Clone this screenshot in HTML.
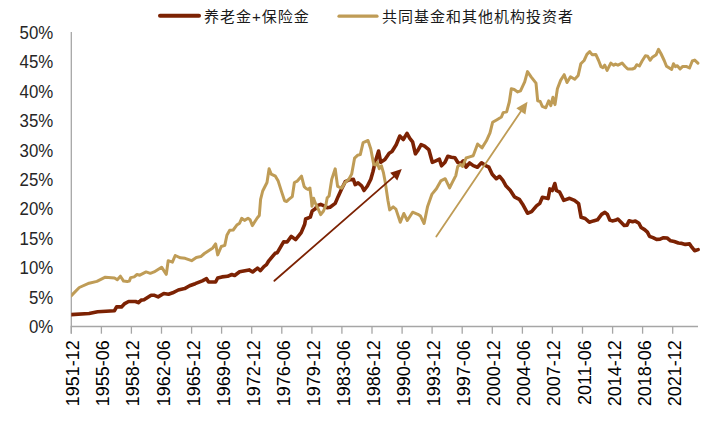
<!DOCTYPE html><html><head><meta charset="utf-8"><style>html,body{margin:0;padding:0;background:#fff;width:722px;height:426px;overflow:hidden}svg{display:block}</style></head><body>
<svg width="722" height="426" viewBox="0 0 722 426">
<rect width="722" height="426" fill="#fff"/>
<line x1="160" y1="15.8" x2="199" y2="15.8" stroke="#7C2203" stroke-width="4" stroke-linecap="round"/>
<text x="204" y="22" font-family="'Liberation Sans','Noto Sans CJK SC',sans-serif" font-size="15" letter-spacing="1" fill="#1a1a1a">养老金+保险金</text>
<line x1="339" y1="16.2" x2="377" y2="16.2" stroke="#BF9C56" stroke-width="3.2" stroke-linecap="round"/>
<text x="382" y="22" font-family="'Liberation Sans','Noto Sans CJK SC',sans-serif" font-size="15" letter-spacing="1" fill="#1a1a1a">共同基金和其他机构投资者</text>
<text transform="translate(53.2,333.2) scale(0.962,1)" text-anchor="end" font-family="'Liberation Sans',sans-serif" font-size="17.5" fill="#262626">0%</text>
<text transform="translate(53.2,303.8) scale(0.962,1)" text-anchor="end" font-family="'Liberation Sans',sans-serif" font-size="17.5" fill="#262626">5%</text>
<text transform="translate(53.2,274.3) scale(0.962,1)" text-anchor="end" font-family="'Liberation Sans',sans-serif" font-size="17.5" fill="#262626">10%</text>
<text transform="translate(53.2,244.9) scale(0.962,1)" text-anchor="end" font-family="'Liberation Sans',sans-serif" font-size="17.5" fill="#262626">15%</text>
<text transform="translate(53.2,215.4) scale(0.962,1)" text-anchor="end" font-family="'Liberation Sans',sans-serif" font-size="17.5" fill="#262626">20%</text>
<text transform="translate(53.2,186.0) scale(0.962,1)" text-anchor="end" font-family="'Liberation Sans',sans-serif" font-size="17.5" fill="#262626">25%</text>
<text transform="translate(53.2,156.6) scale(0.962,1)" text-anchor="end" font-family="'Liberation Sans',sans-serif" font-size="17.5" fill="#262626">30%</text>
<text transform="translate(53.2,127.1) scale(0.962,1)" text-anchor="end" font-family="'Liberation Sans',sans-serif" font-size="17.5" fill="#262626">35%</text>
<text transform="translate(53.2,97.7) scale(0.962,1)" text-anchor="end" font-family="'Liberation Sans',sans-serif" font-size="17.5" fill="#262626">40%</text>
<text transform="translate(53.2,68.2) scale(0.962,1)" text-anchor="end" font-family="'Liberation Sans',sans-serif" font-size="17.5" fill="#262626">45%</text>
<text transform="translate(53.2,38.8) scale(0.962,1)" text-anchor="end" font-family="'Liberation Sans',sans-serif" font-size="17.5" fill="#262626">50%</text>
<line x1="71.3" y1="32" x2="71.3" y2="333.5" stroke="#A6A6A6" stroke-width="1.3"/>
<line x1="70.7" y1="326.5" x2="698" y2="326.5" stroke="#A6A6A6" stroke-width="1.3"/>
<line x1="71.3" y1="326.5" x2="71.3" y2="333.7" stroke="#A6A6A6" stroke-width="1.3"/>
<text transform="translate(79.3,340.3) rotate(-90)" text-anchor="end" font-family="'Liberation Sans',sans-serif" font-size="18" fill="#000">1951-12</text>
<line x1="101.4" y1="326.5" x2="101.4" y2="333.7" stroke="#A6A6A6" stroke-width="1.3"/>
<text transform="translate(109.4,340.3) rotate(-90)" text-anchor="end" font-family="'Liberation Sans',sans-serif" font-size="18" fill="#000">1955-06</text>
<line x1="131.4" y1="326.5" x2="131.4" y2="333.7" stroke="#A6A6A6" stroke-width="1.3"/>
<text transform="translate(139.4,340.3) rotate(-90)" text-anchor="end" font-family="'Liberation Sans',sans-serif" font-size="18" fill="#000">1958-12</text>
<line x1="161.5" y1="326.5" x2="161.5" y2="333.7" stroke="#A6A6A6" stroke-width="1.3"/>
<text transform="translate(169.5,340.3) rotate(-90)" text-anchor="end" font-family="'Liberation Sans',sans-serif" font-size="18" fill="#000">1962-06</text>
<line x1="191.6" y1="326.5" x2="191.6" y2="333.7" stroke="#A6A6A6" stroke-width="1.3"/>
<text transform="translate(199.6,340.3) rotate(-90)" text-anchor="end" font-family="'Liberation Sans',sans-serif" font-size="18" fill="#000">1965-12</text>
<line x1="221.6" y1="326.5" x2="221.6" y2="333.7" stroke="#A6A6A6" stroke-width="1.3"/>
<text transform="translate(229.6,340.3) rotate(-90)" text-anchor="end" font-family="'Liberation Sans',sans-serif" font-size="18" fill="#000">1969-06</text>
<line x1="251.7" y1="326.5" x2="251.7" y2="333.7" stroke="#A6A6A6" stroke-width="1.3"/>
<text transform="translate(259.7,340.3) rotate(-90)" text-anchor="end" font-family="'Liberation Sans',sans-serif" font-size="18" fill="#000">1972-12</text>
<line x1="281.8" y1="326.5" x2="281.8" y2="333.7" stroke="#A6A6A6" stroke-width="1.3"/>
<text transform="translate(289.8,340.3) rotate(-90)" text-anchor="end" font-family="'Liberation Sans',sans-serif" font-size="18" fill="#000">1976-06</text>
<line x1="311.9" y1="326.5" x2="311.9" y2="333.7" stroke="#A6A6A6" stroke-width="1.3"/>
<text transform="translate(319.9,340.3) rotate(-90)" text-anchor="end" font-family="'Liberation Sans',sans-serif" font-size="18" fill="#000">1979-12</text>
<line x1="341.9" y1="326.5" x2="341.9" y2="333.7" stroke="#A6A6A6" stroke-width="1.3"/>
<text transform="translate(349.9,340.3) rotate(-90)" text-anchor="end" font-family="'Liberation Sans',sans-serif" font-size="18" fill="#000">1983-06</text>
<line x1="372.0" y1="326.5" x2="372.0" y2="333.7" stroke="#A6A6A6" stroke-width="1.3"/>
<text transform="translate(380.0,340.3) rotate(-90)" text-anchor="end" font-family="'Liberation Sans',sans-serif" font-size="18" fill="#000">1986-12</text>
<line x1="402.1" y1="326.5" x2="402.1" y2="333.7" stroke="#A6A6A6" stroke-width="1.3"/>
<text transform="translate(410.1,340.3) rotate(-90)" text-anchor="end" font-family="'Liberation Sans',sans-serif" font-size="18" fill="#000">1990-06</text>
<line x1="432.1" y1="326.5" x2="432.1" y2="333.7" stroke="#A6A6A6" stroke-width="1.3"/>
<text transform="translate(440.1,340.3) rotate(-90)" text-anchor="end" font-family="'Liberation Sans',sans-serif" font-size="18" fill="#000">1993-12</text>
<line x1="462.2" y1="326.5" x2="462.2" y2="333.7" stroke="#A6A6A6" stroke-width="1.3"/>
<text transform="translate(470.2,340.3) rotate(-90)" text-anchor="end" font-family="'Liberation Sans',sans-serif" font-size="18" fill="#000">1997-06</text>
<line x1="492.3" y1="326.5" x2="492.3" y2="333.7" stroke="#A6A6A6" stroke-width="1.3"/>
<text transform="translate(500.3,340.3) rotate(-90)" text-anchor="end" font-family="'Liberation Sans',sans-serif" font-size="18" fill="#000">2000-12</text>
<line x1="522.4" y1="326.5" x2="522.4" y2="333.7" stroke="#A6A6A6" stroke-width="1.3"/>
<text transform="translate(530.4,340.3) rotate(-90)" text-anchor="end" font-family="'Liberation Sans',sans-serif" font-size="18" fill="#000">2004-06</text>
<line x1="552.4" y1="326.5" x2="552.4" y2="333.7" stroke="#A6A6A6" stroke-width="1.3"/>
<text transform="translate(560.4,340.3) rotate(-90)" text-anchor="end" font-family="'Liberation Sans',sans-serif" font-size="18" fill="#000">2007-12</text>
<line x1="582.5" y1="326.5" x2="582.5" y2="333.7" stroke="#A6A6A6" stroke-width="1.3"/>
<text transform="translate(590.5,340.3) rotate(-90)" text-anchor="end" font-family="'Liberation Sans',sans-serif" font-size="18" fill="#000">2011-06</text>
<line x1="612.6" y1="326.5" x2="612.6" y2="333.7" stroke="#A6A6A6" stroke-width="1.3"/>
<text transform="translate(620.6,340.3) rotate(-90)" text-anchor="end" font-family="'Liberation Sans',sans-serif" font-size="18" fill="#000">2014-12</text>
<line x1="642.6" y1="326.5" x2="642.6" y2="333.7" stroke="#A6A6A6" stroke-width="1.3"/>
<text transform="translate(650.6,340.3) rotate(-90)" text-anchor="end" font-family="'Liberation Sans',sans-serif" font-size="18" fill="#000">2018-06</text>
<line x1="672.7" y1="326.5" x2="672.7" y2="333.7" stroke="#A6A6A6" stroke-width="1.3"/>
<text transform="translate(680.7,340.3) rotate(-90)" text-anchor="end" font-family="'Liberation Sans',sans-serif" font-size="18" fill="#000">2021-12</text>
<defs><clipPath id="pc"><rect x="71.3" y="0" width="650" height="340"/></clipPath></defs><g clip-path="url(#pc)">
<polyline points="71.1,314.6 89.1,313.5 97.6,311.8 114.5,310.7 116.6,306.9 121.5,306.9 124.3,303.9 128.6,301.5 135.6,301.5 138.4,302.7 141.2,300.1 144,299.7 151.1,295.2 153.9,295.2 158.1,296.9 163.8,293.5 168.5,294.2 172.7,292.8 178.3,290 184.6,288.6 189.6,285.8 195.2,283.7 202.3,280.8 206.5,278.7 208.6,282 215.6,282 217.7,278 222,276.9 227.6,276.3 231.8,274.5 234.6,275.5 239.6,271.7 249.1,269.9 252.6,272 257.5,268.2 260.4,270.6 263.9,266.6 266.5,264.6 268.8,260.8 275.1,253.3 277.3,252.7 280.8,246.7 283.6,241.8 287.1,242 291.3,236.4 295.6,239.6 301.2,232.6 304.7,224.2 305.6,219 310.3,217.1 312.2,211 315,209.1 317.8,205.4 320.7,204.4 324,205.8 327.2,207.7 330,207.2 335.2,203.4 338.2,196.4 341.7,188.8 345.2,181.7 349.9,179.7 353.4,179.4 355.2,184.6 358.1,182.9 361.6,185.8 364,190.5 367.4,186 370.8,179.2 373,171.5 375.1,162.3 378.6,151 380.7,162.3 384.9,159.5 389.2,153.2 392,151.5 396.2,144.7 399.8,136 403.3,139.5 407,133.4 409.8,138.3 412.6,141.8 415.4,153.8 417.5,151 421.1,144.6 424.6,146.1 428.8,149.6 432.3,162.3 435.8,160.8 439.4,159.2 441.5,165.8 445,162.3 447.8,156.3 451.3,157.3 454.9,157.7 457.7,162.3 460.5,163.7 463.3,160.8 466.1,167.2 469.6,163 473.3,165.6 477.4,167.2 481.5,162.8 485.6,165.6 488.9,167.2 492.2,174.3 496.3,178.7 499.6,176.3 502.9,180.4 506.1,186.1 510.2,190.2 514.4,196.8 519.3,199.3 522.6,204.2 527.5,213.2 531.6,211.6 536.5,205.9 539.8,203.4 542.4,197.3 548.1,198.6 549.9,188.9 552.3,190.5 554.8,183.5 556.4,190.5 559.7,192.2 563.8,200.4 569.6,198.3 574.5,200.4 578.6,203.7 581.1,217.3 585.2,218.5 589.3,222.2 593.4,220.9 597.5,219.8 601.6,214.4 604.9,212.4 607.4,214.4 609.8,220.1 612.3,220.9 615.3,220.3 617.8,219 621.3,222.5 624.2,225.4 627,225.1 629.1,220.8 632.6,221.8 635.4,221.1 638.9,223.2 641.1,227.5 644.6,229.6 647.4,232.1 649.5,236.3 653,237.7 656.5,239.4 660.1,239.2 663.6,237.7 667.1,238 670.6,240.8 674.2,241.5 678.4,243 681.9,243.4 685.4,244.4 689.6,243.9 691.8,247.2 694.6,250.7 698.1,249.6" fill="none" stroke="#7C2203" stroke-width="3.6" stroke-linejoin="round" stroke-linecap="round"/>
<polyline points="71.1,295.9 79.3,287.5 89.1,283.2 96.9,281.4 105.3,277.2 114.5,278 117.3,279.7 120.4,276.2 123.6,281.1 127.2,281.5 129.3,281.1 130.7,277.6 134.2,276.9 137,274.5 139.8,275.2 146.1,271.9 150.3,273.3 154.1,271.9 161.6,267.2 166.3,274.3 168.2,260.7 172.4,262.1 175.2,255.5 180.4,257.8 185.1,258.3 191.6,260.7 196.3,257.4 200.8,256.6 204.4,253.5 208.6,250.7 212.8,247.9 215.6,243.9 217.7,254.9 221.3,246.5 224.8,245.4 226.9,235.2 229.7,230.3 233.2,230 236.8,225.1 239.6,223.2 241.7,218.3 244.5,220.4 248,218.3 250.1,219.7 252.3,225.6 257.2,218 259.3,215.5 260.6,199.4 262.7,191 267,182.5 269.1,168.7 271.2,174.1 275.4,176.2 278.2,181.1 281.8,192.4 284.6,200.8 286.7,201.5 288.8,199.4 292.3,196.6 294.4,182.5 297.3,181.1 301.5,176.2 304.2,186.6 306.1,188.5 308,189.4 309.9,188 311.3,198.8 312,206.3 313.6,198.3 315,202.5 317.8,208.2 320.7,214.7 323.5,211 325.8,205.4 327.2,197.8 329.1,196 331.7,179.4 335.2,168.8 337.6,186.4 341.7,188.2 345.2,182.3 348.7,179.4 351.7,174.1 354.6,158.1 357.5,155.3 360.3,154.6 363.1,142.6 368,140.5 370.8,149 373.7,164.4 375.8,165.1 377.2,162.3 379.3,168.7 381.4,165.8 383.5,172.9 385.3,182.6 387.9,200.2 389.7,209.9 393.2,206.9 395.9,209.1 400.3,222.3 403.8,213.5 407.3,220.5 412.6,212.2 417.9,214.3 420.5,216.1 424.1,223.5 427.6,206.4 432,194.1 436.4,188.8 440.8,180.9 445.2,178.7 449.6,187.9 452.2,182.6 455.8,175.6 457.7,166.5 460.5,164.4 462.6,166.5 466.1,158 469.6,156.9 473.2,155.8 477.6,144 482,147.9 486.4,140.8 490,132.9 492.6,122.3 497,119.7 501.4,117 503.2,112.6 506.7,111.7 509.3,102 511.3,88.8 514.2,89.5 517.7,91.9 520.5,90.9 524.7,81.8 527.5,71.6 531.1,76.8 536,83.2 537.7,100.8 540.2,101.5 542.3,106.4 545.8,107.8 548.7,100.8 550.8,105.7 552.9,97.3 555,104.6 557.4,88.8 560.6,80.4 564.2,74.7 567,82.5 570.5,76.8 574.7,79.2 578.2,75.4 580.8,63.8 584.1,60.5 586.9,54.4 589.7,51.6 592.1,54.7 595.8,54.4 598.6,60.5 601,66.6 602.9,67.6 604.7,65.2 607.1,70.4 610.8,63.1 613.7,65.2 615.5,64.1 617.9,65.2 622.1,63.1 624.9,66.2 627.7,69 632.4,69 634.8,68 636.7,64.7 639.4,66 642.1,61 645.4,55.8 647.7,56.3 650.1,60.3 652.4,57.2 656.2,54.7 658.5,49.3 660.9,53.5 664.2,60.5 666.5,66.2 671.7,69.4 673.5,63.8 675.4,66.6 677.3,65.7 680.1,69 682.5,66.6 686.7,66.6 689.5,68 692.3,61 694.7,60.1 697.9,63.2" fill="none" stroke="#BF9C56" stroke-width="3.0" stroke-linejoin="round" stroke-linecap="round"/>
</g>
<line x1="274.4" y1="280.8" x2="393.8" y2="176.6" stroke="#7C2203" stroke-width="1.8" stroke-linecap="round"/><polygon points="401.8,169 390.2,172.7 397.3,180.4" fill="#7C2203"/>
<line x1="436.3" y1="236.5" x2="520.8" y2="111.4" stroke="#BF9C56" stroke-width="1.8" stroke-linecap="round"/><polygon points="527.5,101.8 516.3,108.3 525.4,114.5" fill="#BF9C56"/>
</svg></body></html>
